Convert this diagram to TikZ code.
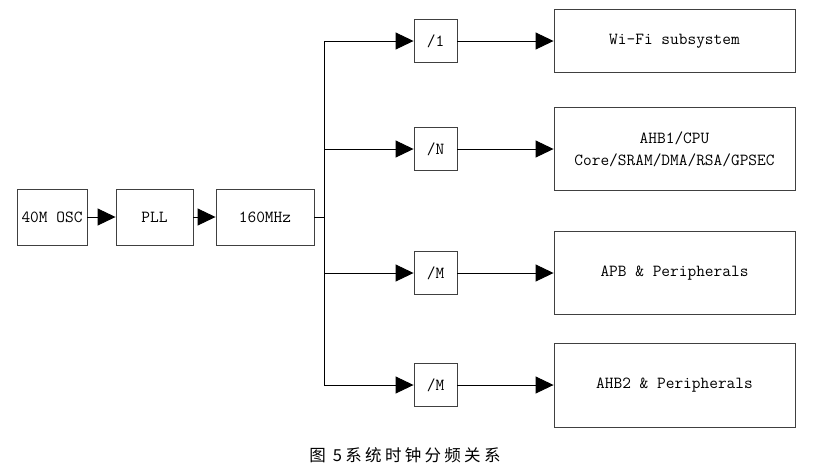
\documentclass[tikz,border=0pt]{standalone}
\usepackage{fontspec}
\newfontfamily\cjk[LetterSpace=20]{Noto Sans CJK SC}
\usetikzlibrary{arrows.meta}
\tikzset{blk/.style={draw=black!75,line width=0.9pt,inner sep=0pt,
    font=\ttfamily\fontsize{16.9}{22}\selectfont,align=center},
  divbox/.style={blk,minimum width=43,minimum height=43},
  sig/.style={line width=0.9pt,-{Triangle[length=18pt,width=17pt]}}}

\begin{document}
\begin{tikzpicture}[x=1pt,y=-1pt]
  \useasboundingbox (0,0) rectangle (813,472);
  \node[blk,minimum width=70,minimum height=56] (osc) at (52,217) {40M OSC};
  \node[blk,minimum width=77,minimum height=56] (pll) at (154.5,217) {PLL};
  \node[blk,minimum width=98,minimum height=56] (mhz) at (265,217) {160MHz};
  \draw[sig] (osc) -- (pll);
  \draw[sig] (pll) -- (mhz);
  % clock bus
  \coordinate (bus) at (324,217);
  \coordinate (b1) at (324,41);
  \coordinate (b2) at (324,149);
  \coordinate (b3) at (324,273);
  \coordinate (b4) at (324,385);
  \draw[line width=0.9pt] (mhz) -- (bus);
  \draw[line width=0.9pt] (b1) -- (b4);
  % dividers
  \node[divbox] (d1) at (435.5,41) {/1};
  \node[divbox] (d2) at (435.5,149) {/N};
  \node[divbox] (d3) at (435.5,273) {/M};
  \node[divbox] (d4) at (435.5,385) {/M};
  % targets
  \node[blk,minimum width=241,minimum height=63] (wifi) at (674.5,41) {Wi-Fi subsystem};
  \node[blk,minimum width=241,minimum height=83] (ahbone) at (674.5,149) {AHB1/CPU\\Core/SRAM/DMA/RSA/GPSEC};
  \node[blk,minimum width=241,minimum height=83] (apb) at (674.5,273) {APB \& Peripherals};
  \node[blk,minimum width=241,minimum height=84] (ahbtwo) at (674.5,385) {AHB2 \& Peripherals};
  \foreach \i/\t in {1/wifi,2/ahbone,3/apb,4/ahbtwo}{
    \draw[sig] (b\i) -- (d\i);
    \draw[sig] (d\i) -- (\t);
  }
  \node[font=\cjk\fontsize{16.5}{18}\selectfont] (cap) at (405,455) {图\ 5系统时钟分频关系};
\end{tikzpicture}
\end{document}
